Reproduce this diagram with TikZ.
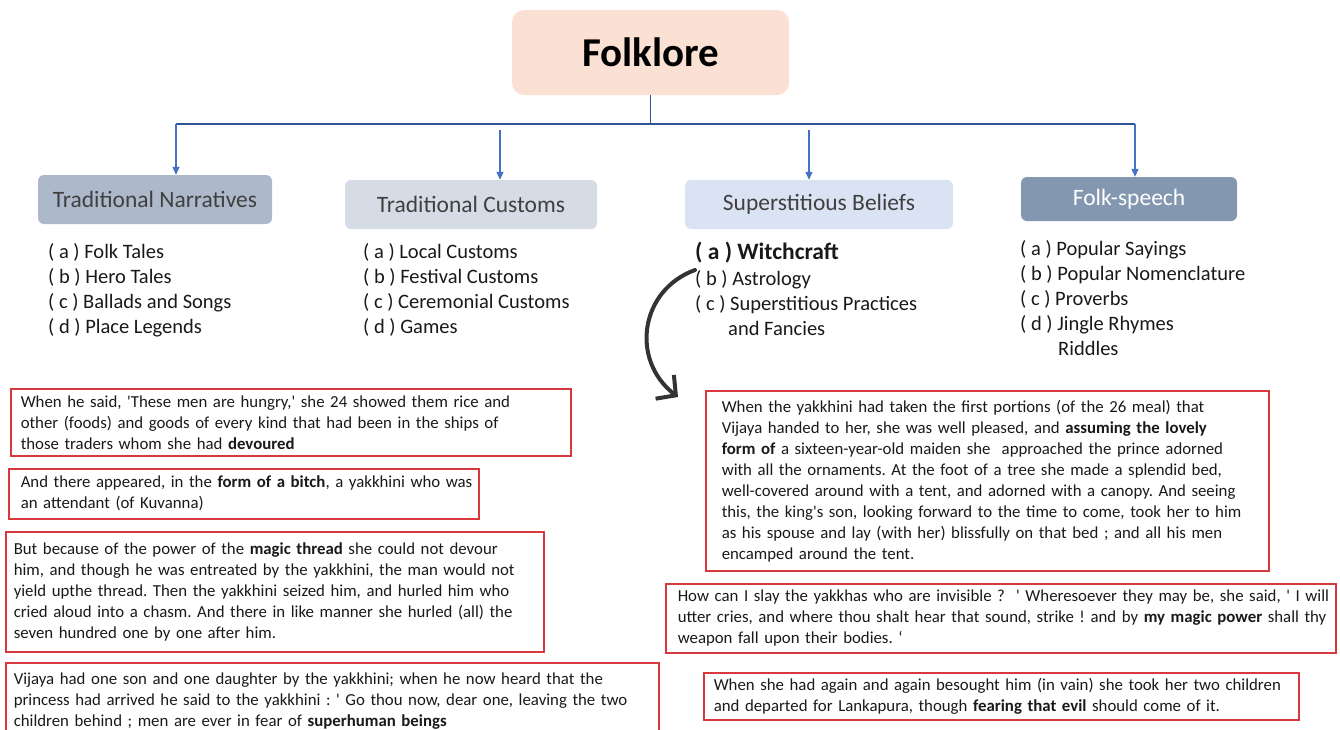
\documentclass[tikz,border=0pt]{standalone}
\usepackage{fontspec}
\setmainfont{Carlito}
\usetikzlibrary{arrows.meta}
\definecolor{rootfill}{HTML}{FBE1D4}
\definecolor{narrfill}{HTML}{ADB9CA}
\definecolor{custfill}{HTML}{D6DCE5}
\definecolor{belieffill}{HTML}{DAE3F3}
\definecolor{speechfill}{HTML}{8497B0}
\definecolor{busblue}{HTML}{2F5597}
\definecolor{dropblue}{HTML}{4472C4}
\definecolor{quotered}{HTML}{D8393F}
\definecolor{cattext}{HTML}{404040}
\definecolor{inkgray}{HTML}{333333}
\newcommand{\sq}{\textquotesingle}
\frenchspacing

\begin{document}
\begin{tikzpicture}[x=1pt,y=-1pt] % folklore chart
\tikzstyle{every node}+=[inner sep=0pt]
\tikzstyle{rootbox}=[rounded corners=12pt, fill=rootfill, minimum width=277pt, minimum height=85pt, font=\fontsize{41}{48}\selectfont\bfseries]
\tikzstyle{catbox}=[rounded corners=6pt, minimum height=49pt, text=cattext, font=\fontsize{23.5}{28}\selectfont]
\tikzstyle{itemlist}=[anchor=north west, align=left, text=black!90, font=\fontsize{20.5}{25}\selectfont]
\tikzstyle{quotebox}=[draw=quotered, line width=1.5pt, anchor=north west, align=left, inner xsep=10pt, text=black!90, font=\fontsize{16.8}{21}\selectfont]
\tikzstyle{bus}=[busblue, line width=2.5pt]
\tikzstyle{stem}=[busblue, line width=1.8pt]
\tikzstyle{drop}=[dropblue, line width=1.3pt, -{Triangle[length=8pt,width=7pt]}]
\tikzstyle{witcharrow}=[inkgray, line width=4pt, line cap=round, -{Straight Barb[length=14pt,width=30pt]}]
\useasboundingbox (0,0) rectangle (1340,729);

% title and the four kinds
\node[rootbox] (folklore) at (650.5,52.5) {Folklore};
\node[catbox, fill=narrfill, minimum width=234pt] (narr) at (155,199.5) {Traditional Narratives};
\node[catbox, fill=custfill, minimum width=252pt] (cust) at (471,204.5) {Traditional Customs};
\node[catbox, fill=belieffill, minimum width=268pt] (belief) at (819,204.5) {Superstitious Beliefs};
\node[catbox, fill=speechfill, text=white, minimum width=216pt, minimum height=44pt] (speech) at (1129,199) {Folk-speech};

\coordinate (busL) at (176,124);
\coordinate (busR) at (1135,124);
\coordinate (dropB) at (500,130);
\coordinate (dropC) at (809,130);
\draw[stem] (folklore.south) -- (folklore.south |- busL);
\draw[bus] (busL) -- (busR);
\draw[drop] (busL) -- (busL |- narr.north);
\draw[drop] (dropB) -- (dropB |- cust.north);
\draw[drop] (dropC) -- (dropC |- belief.north);
\draw[drop] (busR) -- (busR |- speech.north);

% lists
\node[itemlist] (narrList) at (48,243) {( a ) Folk Tales\\( b ) Hero Tales\\( c ) Ballads and Songs\\( d ) Place Legends};
\node[itemlist] (custList) at (363,243) {( a ) Local Customs\\( b ) Festival Customs\\( c ) Ceremonial Customs\\( d ) Games};
\node[itemlist, font=\fontsize{23.5}{28}\selectfont\bfseries] (witch) at (695,242) {( a ) Witchcraft};
\node[itemlist] (beliefList) at (695,270) {( b ) Astrology\\( c ) Superstitious Practices\\\hspace*{33pt}and Fancies};
\node[itemlist] (speechList) at (1020,240) {( a ) Popular Sayings\\( b ) Popular Nomenclature\\( c ) Proverbs\\( d ) Jingle Rhymes\\\hspace*{38pt}Riddles};

% quotations
\node[quotebox, text width=540pt, minimum height=67pt] (devoured) at (10,388) {When he said, \sq These men are hungry,\sq{} she 24 showed them rice and\\other (foods) and goods of every kind that had been in the ships of\\those traders whom she had \textbf{devoured}};
\node[quotebox, inner xsep=12pt, text width=446pt, minimum height=50pt] (bitch) at (8,468) {\mbox{And there appeared, in the \textbf{form of a bitch}, a yakkhini who was}\\an attendant (of Kuvanna)};
\node[quotebox, inner xsep=8pt, text width=522pt, minimum height=120pt] (thread) at (5,531) {But because of the power of the \textbf{magic thread} she could not devour\\him, and though he was entreated by the yakkhini, the man would not\\yield upthe thread. Then the yakkhini seized him, and hurled him who\\cried aloud into a chasm. And there in like manner she hurled (all) the\\seven hundred one by one after him.};
\node[quotebox, inner xsep=8pt, text width=637pt, minimum height=76pt] (beings) at (5,662) {Vijaya had one son and one daughter by the yakkhini; when he now heard that the\\princess had arrived he said to the yakkhini : \sq{} Go thou now, dear one, leaving the two\\children behind ; men are ever in fear of \textbf{superhuman beings}};
\node[quotebox, inner xsep=16pt, text width=531pt, minimum height=180pt] (maiden) at (705,390) {When the yakkhini had taken the first portions (of the 26 meal) that\\Vijaya handed to her, she was well pleased, and \textbf{assuming the lovely}\\\textbf{form of} a sixteen-year-old maiden she\ \ approached the prince adorned\\with all the ornaments. At the foot of a tree she made a splendid bed,\\well-covered around with a tent, and adorned with a canopy. And seeing\\this, the king\sq s son, looking forward to the time to come, took her to him\\as his spouse and lay (with her) blissfully on that bed ; and all his men\\encamped around the tent.};
\node[quotebox, inner xsep=12pt, text width=646pt, minimum height=69pt] (power) at (665,583) {\mbox{How can I slay the yakkhas who are invisible ?\ \ \sq{} Wheresoever they may be, she said, \sq{} I will}\\\mbox{utter cries, and where thou shalt hear that sound, strike ! and by \textbf{my magic power} shall thy}\\weapon fall upon their bodies. ‘};
\node[quotebox, text width=575pt, minimum height=47pt] (evil) at (703,672) {When she had again and again besought him (in vain) she took her two children\\and departed for Lankapura, though \textbf{fearing that evil} should come of it.};

% hand drawn pointer
\coordinate (curveStart) at (695,270);
\coordinate (curveEnd) at (678,397);
\draw[witcharrow] (curveStart) .. controls (640,290) and (630,360) .. (curveEnd);
\end{tikzpicture}
\end{document}
